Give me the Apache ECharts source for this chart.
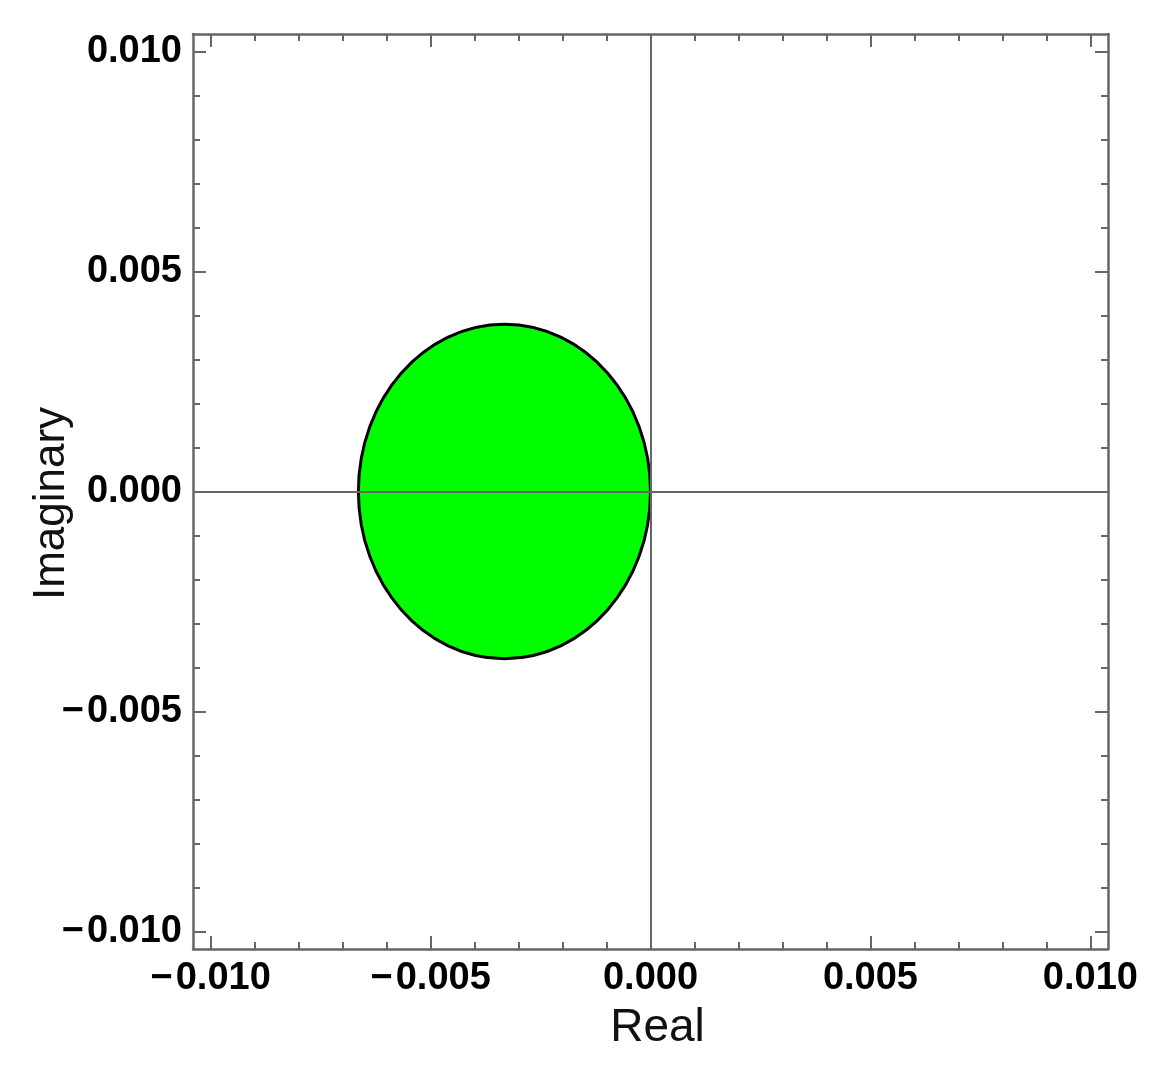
<!DOCTYPE html>
<html>
<head>
<meta charset="utf-8">
<script src="https://cdn.jsdelivr.net/npm/echarts@6/dist/echarts.min.js"></script>
<style>html,body{margin:0;padding:0;background:#fff;}#c{width:1161px;height:1069px;}</style>
</head>
<body>
<div id="c"></div>
<script>
// Data
var ellipseCenterReal = [-0.00332];
var ellipseCenterImag = [0];
var ellipseRadiusReal = [0.00332];
var ellipseRadiusImag = [0.0038];
var majorTicks = [-0.010, -0.005, 0.000, 0.005, 0.010];
var minorTicks = [-0.009, -0.008, -0.007, -0.006, -0.004, -0.003, -0.002, -0.001,
                  0.001, 0.002, 0.003, 0.004, 0.006, 0.007, 0.008, 0.009];
var axisMin = -0.0104, axisMax = 0.0104;
var xName = 'Real', yName = 'Imaginary';

var FONT = '"Liberation Sans", Arial, sans-serif';
var frameColor = '#666666';

function fmt(v) {
  var s = Math.abs(v).toFixed(3);
  return v < -1e-12 ? '\u2212\u200A' + s : s;
}

function makeAxis(kind, position, major, withLabels, extra) {
  var a = {
    type: 'value',
    position: position,
    min: axisMin,
    max: axisMax,
    splitLine: { show: false },
    axisLine: { show: major, onZero: false, lineStyle: { color: frameColor, width: 2.5 } },
    axisTick: {
      show: true,
      inside: true,
      length: major ? 13 : 7,
      customValues: major ? majorTicks : minorTicks,
      lineStyle: { color: frameColor, width: 2 }
    },
    axisLabel: withLabels ? {
      show: true,
      customValues: majorTicks,
      formatter: fmt,
      color: '#000',
      fontFamily: FONT,
      fontWeight: 'bold',
      fontSize: 38,
      margin: 11
    } : { show: false }
  };
  if (extra) { for (var k in extra) a[k] = extra[k]; }
  return a;
}

var data = [];
for (var i = 0; i < ellipseCenterReal.length; i++) {
  data.push([ellipseCenterReal[i], ellipseCenterImag[i], ellipseRadiusReal[i], ellipseRadiusImag[i]]);
}

var chart = echarts.init(document.getElementById('c'), null, { renderer: 'canvas' });
chart.setOption({
  animation: false,
  backgroundColor: '#ffffff',
  grid: { left: 193, top: 34, right: 53, bottom: 120, containLabel: false },
  xAxis: [
    makeAxis('x', 'bottom', true, true, {
      name: xName, nameLocation: 'middle', nameGap: 56, nameMoveOverlap: false,
      nameTextStyle: { fontFamily: FONT, fontSize: 46, color: '#111', padding: [0, 0, 0, 14] }
    }),
    makeAxis('x', 'bottom', false, false),
    makeAxis('x', 'top', true, false),
    makeAxis('x', 'top', false, false)
  ],
  yAxis: [
    makeAxis('y', 'left', true, true, {
      name: yName, nameLocation: 'middle', nameGap: 119, nameRotate: 90, nameMoveOverlap: false,
      nameTextStyle: { fontFamily: FONT, fontSize: 44, color: '#111', padding: [0, 24, 0, 0] }
    }),
    makeAxis('y', 'left', false, false),
    makeAxis('y', 'right', true, false),
    makeAxis('y', 'right', false, false)
  ],
  series: [{
    type: 'custom',
    xAxisIndex: 0,
    yAxisIndex: 0,
    data: data,
    encode: { x: 0, y: 1 },
    clip: false,
    renderItem: function (params, api) {
      var c = api.coord([api.value(0), api.value(1)]);
      var s = api.size([api.value(2), api.value(3)]);
      return {
        type: 'ellipse',
        shape: { cx: c[0], cy: c[1], rx: s[0], ry: s[1] },
        style: { fill: '#00ff00', stroke: '#000000', lineWidth: 3 }
      };
    },
    markLine: {
      silent: true,
      symbol: ['none', 'none'],
      label: { show: false },
      lineStyle: { color: frameColor, width: 2, type: 'solid' },
      data: [{ xAxis: 0 }, { yAxis: 0 }]
    }
  }]
});
</script>
</body>
</html>
